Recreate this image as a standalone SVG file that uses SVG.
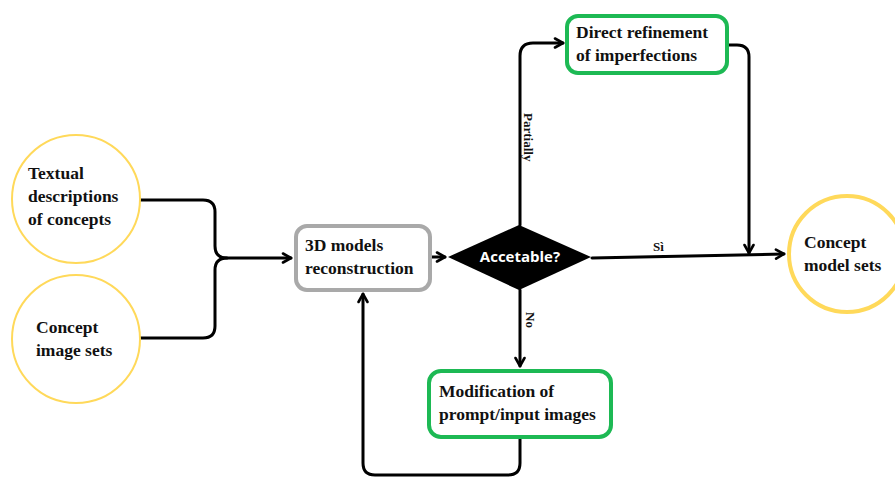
<svg xmlns="http://www.w3.org/2000/svg" width="895" height="477" viewBox="0 0 895 477">
<defs>
<marker id="arr" viewBox="0 0 12 12" refX="10" refY="6" markerWidth="12" markerHeight="12" markerUnits="userSpaceOnUse" orient="auto">
<path d="M2,1.5 L10,6 L2,10.5" fill="none" stroke="#000" stroke-width="2.6" stroke-linecap="round" stroke-linejoin="round"/>
</marker>
<style>
.lbl{font-family:"Liberation Serif","Times New Roman",serif;font-weight:bold;font-size:17.5px;fill:#111}
.small{font-family:"Liberation Serif","Times New Roman",serif;font-weight:bold;font-size:13px;fill:#111}
.conn{fill:none;stroke:#000;stroke-width:3;stroke-linecap:round;stroke-linejoin:round}
.ycirc{fill:#fff;stroke:#FFD95A;stroke-width:2}
.green{fill:#fff;stroke:#1DB954;stroke-width:4}
</style>
</defs>
<rect width="895" height="477" fill="#fff"/>

<g id="connectors">
<path class="conn" d="M140,200 H203 Q215,200 215,212 V246 Q215,258 227,258 H291" marker-end="url(#arr)"/>
<path class="conn" d="M140,338 H203 Q215,338 215,326 V270 Q215,258 227,258"/>
<path class="conn" d="M431,257 H445" marker-end="url(#arr)"/>
<path class="conn" d="M520,225 V56 Q520,43 533,43 H563" marker-end="url(#arr)"/>
<path class="conn" d="M728,45 H737 Q749,45 749,57 V253" marker-end="url(#arr)"/>
<path class="conn" d="M592,258 L784,254" marker-end="url(#arr)"/>
<path class="conn" d="M520,290 V366" marker-end="url(#arr)"/>
<path class="conn" d="M520,438 V463 Q520,475 508,475 H375 Q363,475 363,463 V294" marker-end="url(#arr)"/>
<text class="small" x="653" y="251">Sì</text>
<text class="small" transform="translate(524,113) rotate(90)">Partially</text>
<text class="small" transform="translate(526,312) rotate(90)">No</text>
</g>

<g id="textual">
<circle class="ycirc" cx="76" cy="199" r="64"/>
<text class="lbl" x="28" y="179">Textual</text>
<text class="lbl" x="28" y="202">descriptions</text>
<text class="lbl" x="28" y="225">of concepts</text>
</g>

<g id="images">
<circle class="ycirc" cx="76" cy="339" r="64"/>
<text class="lbl" x="36" y="333">Concept</text>
<text class="lbl" x="36" y="356">image sets</text>
</g>

<g id="reconstruction">
<rect x="296" y="226" width="134" height="64" rx="11" fill="#fff" stroke="#A9A9A9" stroke-width="4"/>
<text class="lbl" x="305" y="251">3D models</text>
<text class="lbl" x="305" y="274">reconstruction</text>
</g>

<g id="decision">
<polygon points="448,257 519,225 591,257 519,290" fill="#000"/>
<text x="520" y="262" text-anchor="middle" font-family="'Open Sans','Liberation Sans',sans-serif" font-weight="bold" font-size="15" fill="#fff">Accetable?</text>
</g>

<g id="refinement">
<rect class="green" x="567" y="16" width="160" height="57" rx="11"/>
<text class="lbl" x="576" y="38">Direct refinement</text>
<text class="lbl" x="576" y="61">of imperfections</text>
</g>

<g id="modification">
<rect class="green" x="429" y="371" width="182" height="66" rx="12"/>
<text class="lbl" x="439" y="397">Modification of</text>
<text class="lbl" x="439" y="420">prompt/input images</text>
</g>

<g id="models">
<circle cx="847" cy="254" r="58" fill="#fff" stroke="#FFD95A" stroke-width="4"/>
<text class="lbl" x="804" y="248">Concept</text>
<text class="lbl" x="804" y="271">model sets</text>
</g>
</svg>
